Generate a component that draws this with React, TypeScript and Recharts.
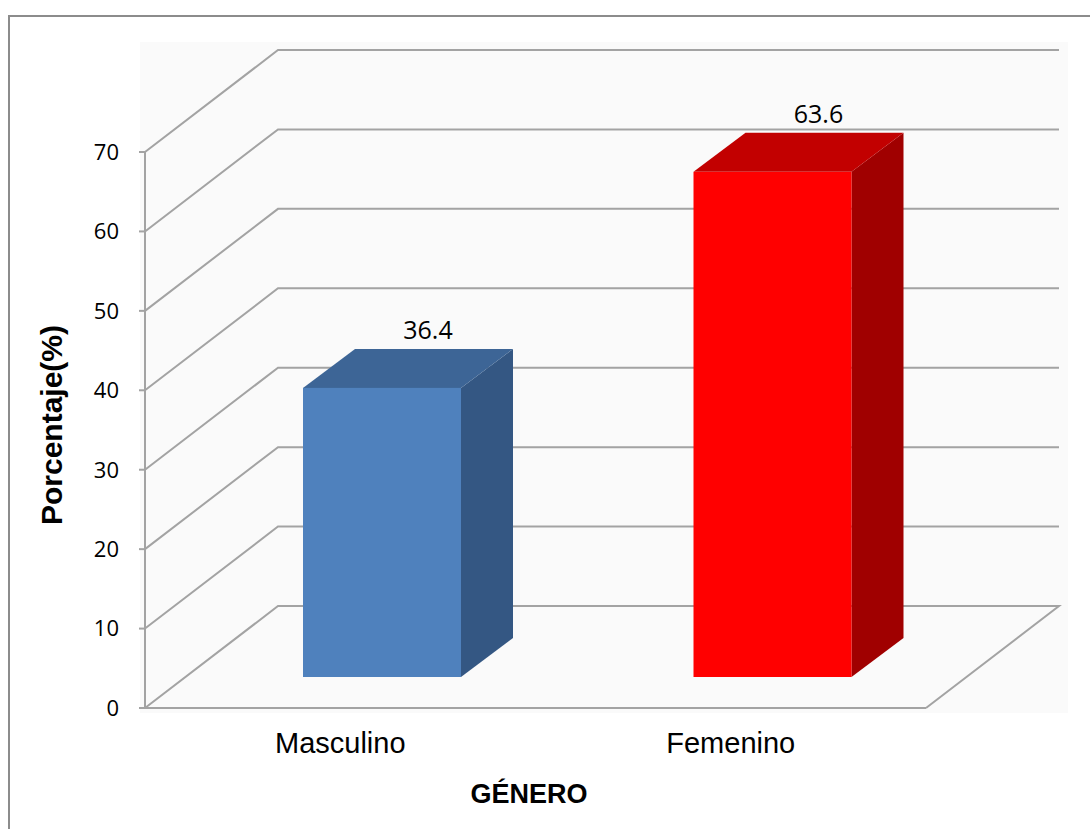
import { BarChart, Bar, XAxis, YAxis, CartesianGrid, LabelList } from 'recharts'

const categories = ['Masculino', 'Femenino']
const porcentajes = [36.4, 63.6]
const yTicks = [0, 10, 20, 30, 40, 50, 60, 70]
const edgeTicks = [0, 1, 2]

const frontColors = ['#4f81bd', '#ff0000']
const topColors = ['#3d6596', '#c20000']
const sideColors = ['#345783', '#a00000']

const data = categories.map((genero, i) => ({ genero, valor: porcentajes[i], idx: i }))

// oblique depth of the walls and of the bars
const WALL_DX = 133
const WALL_DY = 102
const BAR_OFF_X = 42
const BAR_OFF_Y = 31
const BAR_DX = 52
const BAR_DY = 39
const PLOT_BOTTOM = 708

const gridColor = '#a3a3a3'

const WallLine = (props: any) => {
  const { x1, y1, x2 } = props
  const by = y1 - WALL_DY
  const floor = Math.abs(y1 - PLOT_BOTTOM) < 1
  const pts = floor
    ? `${x1},${y1} ${x1 + WALL_DX},${by} ${x2 + WALL_DX},${by} ${x2},${y1}`
    : `${x1},${y1} ${x1 + WALL_DX},${by} ${x2 + WALL_DX},${by}`
  return <polyline points={pts} fill="none" stroke={gridColor} strokeWidth={2} />
}

const Bar3D = (props: any) => {
  const { x, y, width, height, payload } = props
  const i = payload.idx
  const fx = x + BAR_OFF_X
  const fy = y - BAR_OFF_Y
  const fb = y + height - BAR_OFF_Y
  const fr = fx + width
  return (
    <g>
      <polygon
        points={`${fr},${fy} ${fr + BAR_DX},${fy - BAR_DY} ${fr + BAR_DX},${fb - BAR_DY} ${fr},${fb}`}
        fill={sideColors[i]}
      />
      <polygon
        points={`${fx},${fy} ${fx + BAR_DX},${fy - BAR_DY} ${fr + BAR_DX},${fy - BAR_DY} ${fr},${fy}`}
        fill={topColors[i]}
      />
      <rect x={fx} y={fy} width={width} height={height} fill={frontColors[i]} />
    </g>
  )
}

const ValueLabel = (props: any) => {
  const { x, y, width, value } = props
  return (
    <text
      x={x + width / 2 + 88}
      y={y - BAR_OFF_Y - BAR_DY - 20}
      textAnchor="middle"
      dominantBaseline="central"
      fontFamily="Open Sans"
      fontSize={25}
      fill="#000"
    >
      {value}
    </text>
  )
}

const YTitle = () => {
  const cx = 51
  const cy = 425
  return (
    <text
      x={cx}
      y={cy}
      transform={`rotate(-90 ${cx} ${cy})`}
      textAnchor="middle"
      dominantBaseline="central"
      fontFamily="Liberation Sans"
      fontWeight="bold"
      fontSize={30}
      fill="#000"
    >
      Porcentaje(%)
    </text>
  )
}

const XTitle = () => (
  <text
    x={529}
    y={803}
    textAnchor="middle"
    fontFamily="Liberation Sans"
    fontWeight="bold"
    fontSize={27}
    fill="#000"
  >
    GÉNERO
  </text>
)

export default function App() {
  return (
    <div style={{ position: 'absolute', left: 0, top: 0, width: 1090, height: 829, overflow: 'hidden', background: '#fff' }}>
      <div
        style={{
          position: 'absolute',
          left: 8,
          top: 15,
          width: 1100,
          height: 900,
          borderLeft: '2px solid #8c8c8c',
          borderTop: '2px solid #8c8c8c',
        }}
      />
      <div style={{ position: 'absolute', left: 140, top: 42, width: 928, height: 671, background: '#fafafa' }} />
      <div style={{ position: 'absolute', left: 0, top: 0 }}>
        <BarChart
          width={1090}
          height={829}
          data={data}
          margin={{ top: 152, right: 164, bottom: 81, left: 85 }}
          barSize={158}
        >
          <CartesianGrid horizontal={(p: any) => <WallLine {...p} />} vertical={false} />
          <XAxis
            xAxisId="edges"
            type="number"
            domain={[0, 2]}
            ticks={edgeTicks}
            height={0}
            axisLine={false}
            tickSize={7}
            tickLine={{ stroke: gridColor, strokeWidth: 2 }}
            tick={() => <g />}
          />
          <XAxis
            dataKey="genero"
            height={40}
            axisLine={{ stroke: gridColor, strokeWidth: 2 }}
            tickLine={false}
            tickMargin={18}
            tick={{ fill: '#000', fontSize: 29, fontFamily: 'Liberation Sans' }}
            interval={0}
            label={<XTitle />}
          />
          <YAxis
            width={60}
            domain={[0, 70]}
            ticks={yTicks}
            interval={0}
            axisLine={{ stroke: gridColor, strokeWidth: 2 }}
            tickLine={{ stroke: gridColor, strokeWidth: 2 }}
            tickSize={6}
            tickMargin={20}
            tick={{ fill: '#000', fontSize: 22, fontFamily: 'Open Sans' }}
            label={<YTitle />}
          />
          <Bar dataKey="valor" shape={<Bar3D />} isAnimationActive={false}>
            <LabelList dataKey="valor" content={<ValueLabel />} />
          </Bar>
        </BarChart>
      </div>
    </div>
  )
}
